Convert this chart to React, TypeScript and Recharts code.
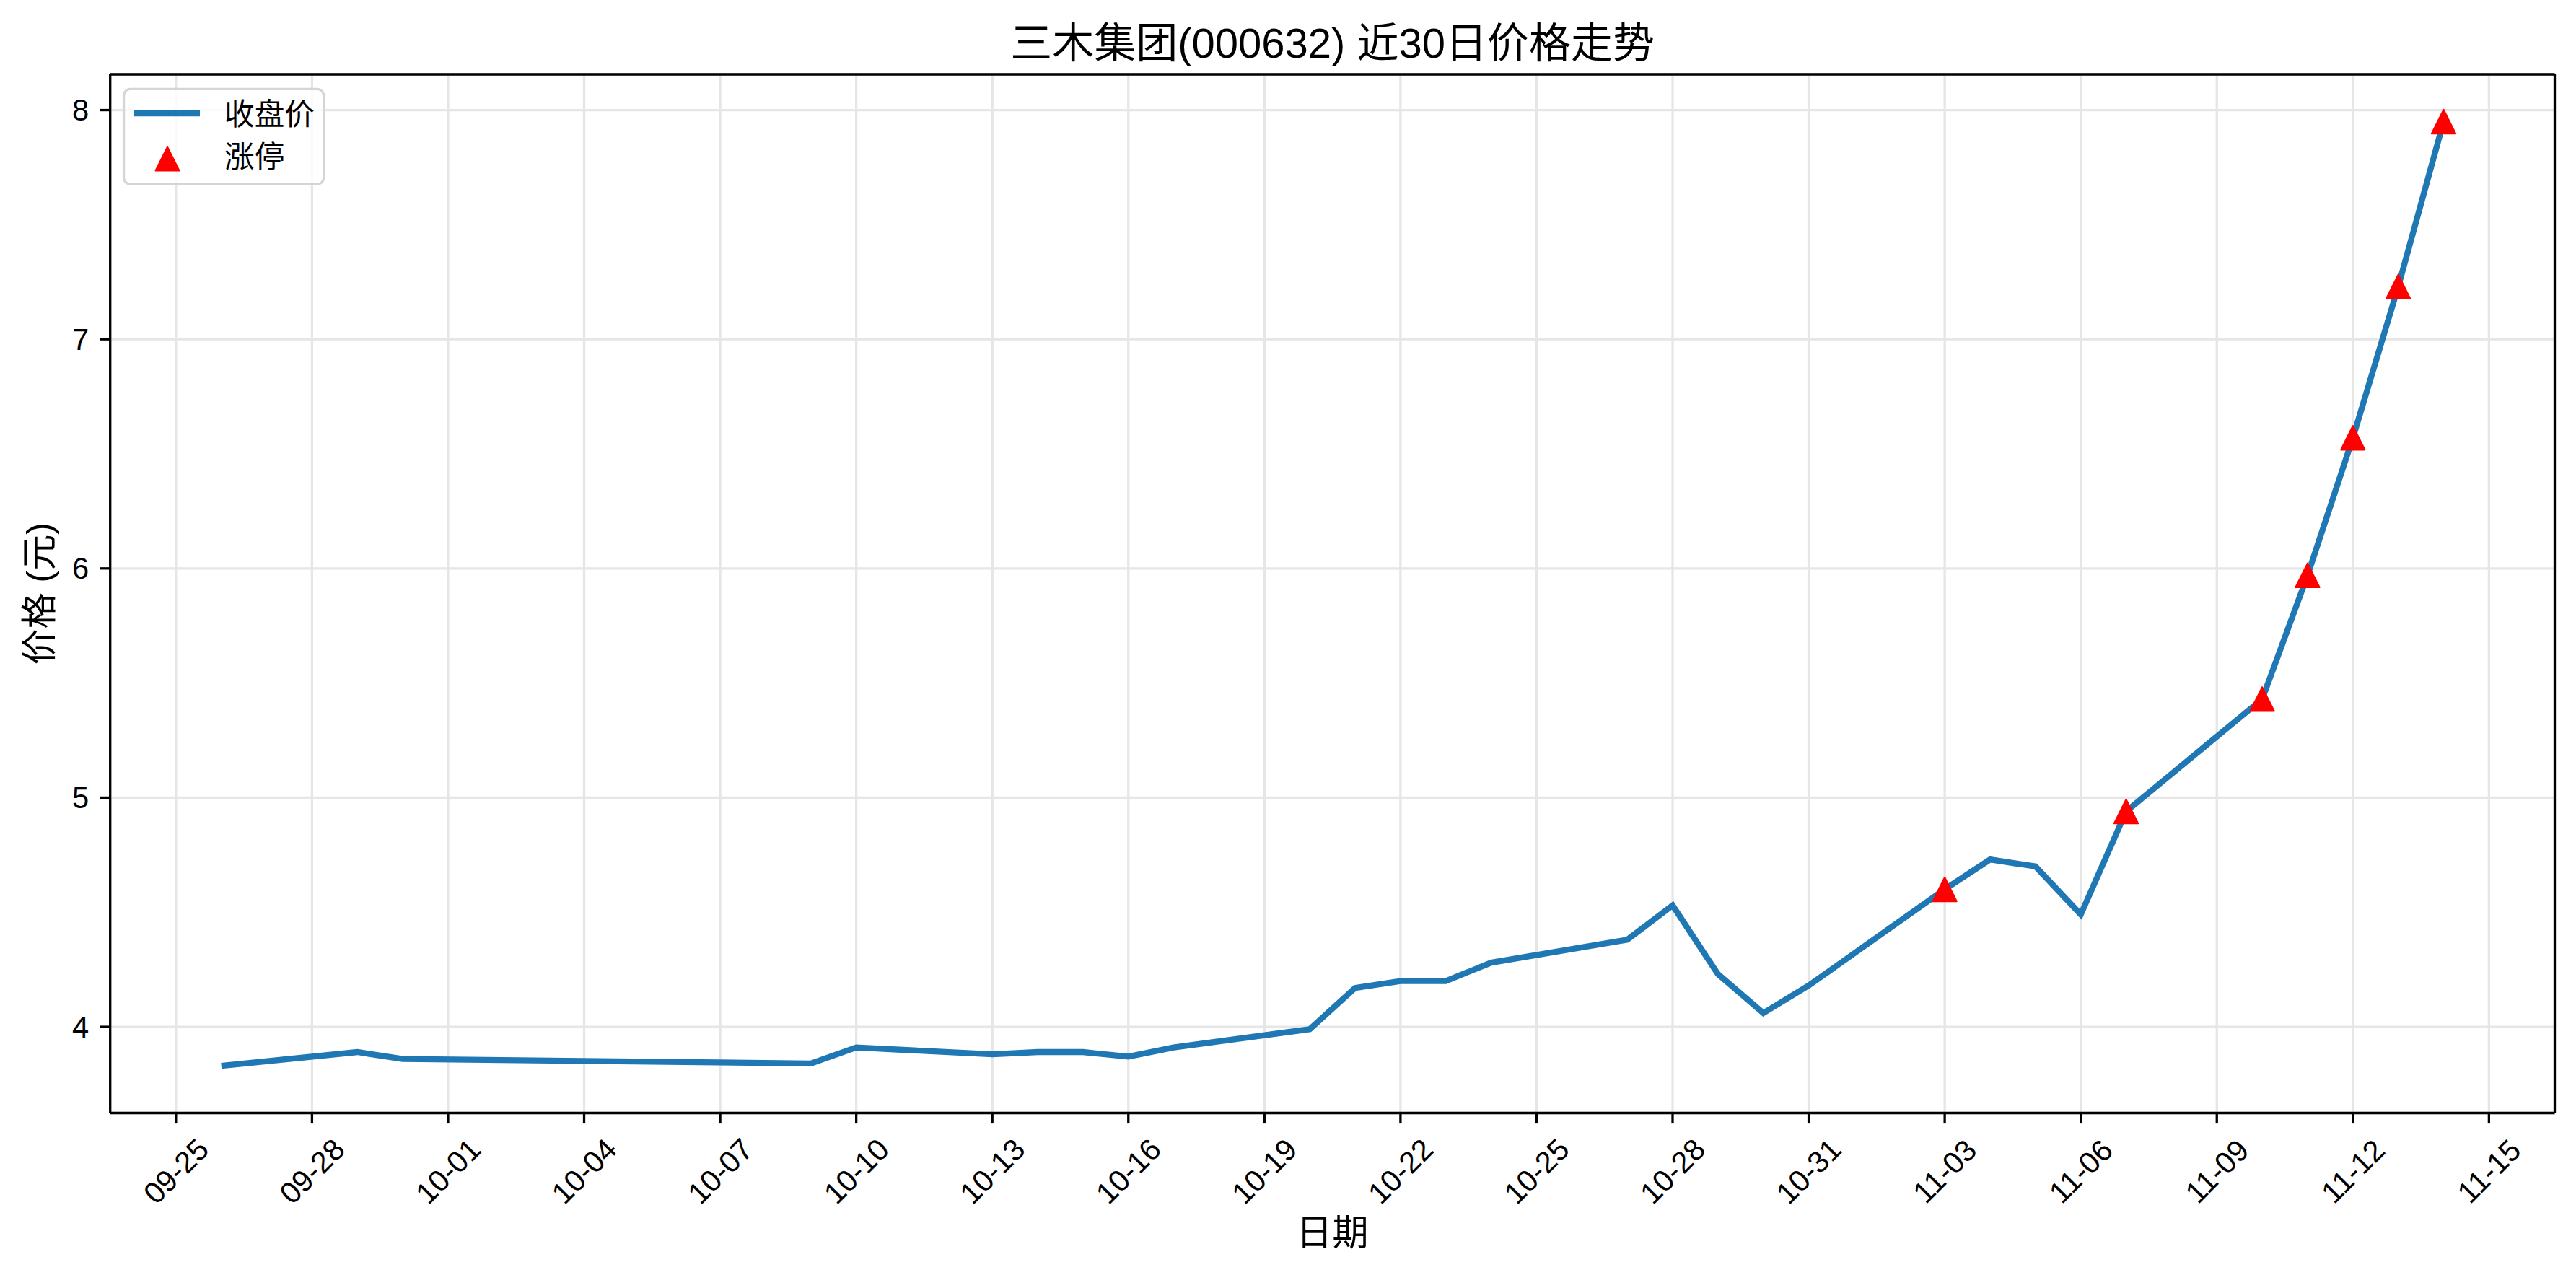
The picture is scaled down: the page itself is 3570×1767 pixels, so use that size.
import React from 'react';
import { ComposedChart, Line, XAxis, YAxis, CartesianGrid, Legend, ReferenceLine } from 'recharts';

const tradeDates = [
  '09-26', '09-29', '09-30', '10-09', '10-10',
  '10-13', '10-14', '10-15', '10-16', '10-17',
  '10-20', '10-21', '10-22', '10-23', '10-24',
  '10-27', '10-28', '10-29', '10-30', '10-31',
  '11-03', '11-04', '11-05', '11-06', '11-07',
  '11-10', '11-11', '11-12', '11-13', '11-14',
];
const closePrices = [
  3.83, 3.89, 3.86, 3.84, 3.91,
  3.88, 3.89, 3.89, 3.87, 3.91,
  3.99, 4.17, 4.2, 4.2, 4.28,
  4.38, 4.53, 4.23, 4.06, 4.18,
  4.6, 4.73, 4.7, 4.49, 4.94,
  5.43, 5.97, 6.57, 7.23, 7.95,
];
const limitUpDates = ['11-03', '11-07', '11-10', '11-11', '11-12', '11-13', '11-14'];
const xTickLabels = [
  '09-25', '09-28', '10-01', '10-04', '10-07', '10-10', '10-13', '10-16', '10-19',
  '10-22', '10-25', '10-28', '10-31', '11-03', '11-06', '11-09', '11-12', '11-15',
];
const yTicks = [4, 5, 6, 7, 8];

const TITLE = '三木集团(000632) 近30日价格走势';
const CLOSE_NAME = '收盘价';
const LIMIT_NAME = '涨停';

const FONT = '"Liberation Sans", Arial, "Noto Sans CJK SC", sans-serif';
const BLUE = '#1f77b4';
const RED = '#ff0000';
const LW = 8.3;
const SPINE = 3.3;

const toTs = (md: string) => {
  const [m, d] = md.split('-').map(Number);
  return Date.UTC(2025, m - 1, d);
};
const fmt = (t: number) => {
  const d = new Date(t);
  return `${String(d.getUTCMonth() + 1).padStart(2, '0')}-${String(d.getUTCDate()).padStart(2, '0')}`;
};

const data = tradeDates.map((d, i) => ({
  t: toTs(d),
  close: closePrices[i],
  limit: limitUpDates.includes(d) ? closePrices[i] : null,
}));

// matplotlib-style 5% autoscale margins
const xFirst = toTs(tradeDates[0]);
const xLast = toTs(tradeDates[tradeDates.length - 1]);
const xPad = (xLast - xFirst) * 0.05;
const xDomain = [xFirst - xPad, xLast + xPad];
const yLo = Math.min(...closePrices);
const yHi = Math.max(...closePrices);
const yPad = (yHi - yLo) * 0.05;
const yDomain = [yLo - yPad, yHi + yPad];

function triPath(cx: number, cy: number, h: number) {
  return `M${cx},${cy - h} L${cx + h},${cy + h} L${cx - h},${cy + h} Z`;
}

function LimitMarker(props: any) {
  const { cx, cy, value } = props;
  if (value == null || cx == null || cy == null) return null;
  return <path d={triPath(cx, cy, 16.7)} fill={RED} stroke={RED} strokeWidth={2} strokeLinejoin="round" />;
}

function XTick({ x, y, payload }: any) {
  return (
    <text
      x={x}
      y={y + 66}
      transform={`rotate(-45, ${x}, ${y + 66})`}
      textAnchor="middle"
      dominantBaseline="central"
      fontSize={41.7}
      fontFamily={FONT}
      fill="#000"
    >
      {fmt(payload.value)}
    </text>
  );
}

function YTick({ x, y, payload }: any) {
  return (
    <text x={x - 15} y={y} textAnchor="end" dominantBaseline="central" fontSize={41.7} fontFamily={FONT} fill="#000">
      {payload.value}
    </text>
  );
}

function renderLegend() {
  return (
    <svg width={290} height={140} style={{ display: 'block' }}>
      <rect x={3.6} y={3.3} width={277} height={132} rx={9} fill="rgba(255,255,255,0.8)" stroke="#d5d5d5" strokeWidth={3.3} />
      <line x1={18} y1={37} x2={109} y2={37} stroke={BLUE} strokeWidth={LW} />
      <path d={triPath(64, 100, 16.5)} fill={RED} stroke={RED} strokeWidth={2} strokeLinejoin="round" />
      <text x={143} y={38} dominantBaseline="central" fontSize={41.7} fontFamily={FONT} fill="#000">{CLOSE_NAME}</text>
      <text x={143} y={97} dominantBaseline="central" fontSize={41.7} fontFamily={FONT} fill="#000">{LIMIT_NAME}</text>
    </svg>
  );
}

export default function App() {
  return (
    <div style={{ position: 'absolute', left: 0, top: 0, width: 3570, height: 1767, background: '#fff', fontFamily: FONT }}>
      <div
        style={{
          position: 'absolute', left: 152.7, width: 3387.8, top: 31, textAlign: 'center',
          fontSize: 58, lineHeight: '58px', color: '#000', whiteSpace: 'nowrap',
        }}
      >
        {TITLE}
      </div>
      <ComposedChart
        width={3570}
        height={1767}
        data={data}
        margin={{ top: 103, right: 29.5, bottom: 124.5, left: 0 }}
      >
        <CartesianGrid stroke="#e6e6e6" strokeWidth={SPINE} />
        <XAxis
          dataKey="t"
          type="number"
          domain={xDomain}
          allowDataOverflow
          ticks={xTickLabels.map(toTs)}
          interval={0}
          height={100}
          tickSize={14.6}
          tickMargin={0}
          axisLine={{ stroke: '#000', strokeWidth: SPINE }}
          tickLine={{ stroke: '#000', strokeWidth: SPINE }}
          tick={<XTick />}
          label={(p: any) => {
            const vb = p.viewBox || {};
            return (
              <text x={vb.x + vb.width / 2} y={vb.y + 166.5} textAnchor="middle" dominantBaseline="central" fontSize={50} fontFamily={FONT} fill="#000">
                日期
              </text>
            );
          }}
        />
        <YAxis
          type="number"
          domain={yDomain}
          allowDataOverflow
          ticks={yTicks}
          interval={0}
          width={152.7}
          tickSize={14.6}
          tickMargin={0}
          axisLine={{ stroke: '#000', strokeWidth: SPINE }}
          tickLine={{ stroke: '#000', strokeWidth: SPINE }}
          tick={<YTick />}
          label={(p: any) => {
            const vb = p.viewBox || {};
            const cy = vb.y + vb.height / 2;
            return (
              <text x={55} y={cy} transform={`rotate(-90, 55, ${cy})`} textAnchor="middle" dominantBaseline="central" fontSize={50} fontFamily={FONT} fill="#000">
                价格 (元)
              </text>
            );
          }}
        />
        <ReferenceLine y={yDomain[1]} stroke="#000" strokeWidth={SPINE} />
        <ReferenceLine x={xDomain[1]} stroke="#000" strokeWidth={SPINE} />
        <Line
          dataKey="close"
          name={CLOSE_NAME}
          type="linear"
          stroke={BLUE}
          strokeWidth={LW}
          dot={false}
          activeDot={false}
          isAnimationActive={false}
        />
        <Line
          dataKey="limit"
          name={LIMIT_NAME}
          type="linear"
          stroke="none"
          dot={<LimitMarker />}
          activeDot={false}
          connectNulls={false}
          isAnimationActive={false}
        />
        <Legend
          layout="vertical"
          align="center"
          verticalAlign="middle"
          wrapperStyle={{ left: 168, top: 120, width: 290, height: 140 }}
          content={renderLegend}
        />
      </ComposedChart>
    </div>
  );
}
